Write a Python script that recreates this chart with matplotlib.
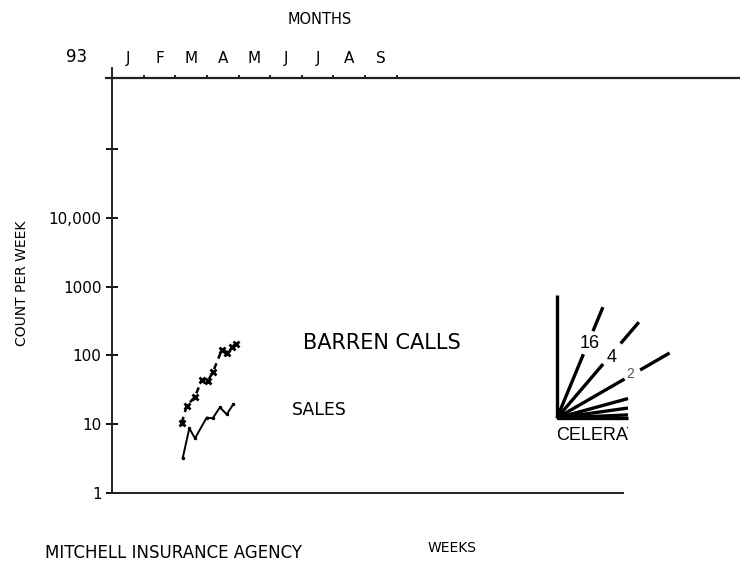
import numpy as np
import matplotlib
matplotlib.use("Agg")
import matplotlib.pyplot as plt
from matplotlib.lines import Line2D
from matplotlib.patches import Rectangle

# data (x in weeks from start of chart, y in counts per week)
calls_week = [9.55, 10.23, 11.37, 12.29, 13.15, 13.84, 15.03, 15.71, 16.40, 16.99]
calls_count = [10.4, 18.3, 25, 43.7, 42.7, 57.7, 119, 108, 133, 146]
sales_week = [9.68, 10.59, 11.37, 12.97, 13.79, 14.79, 15.71, 16.62]
sales_count = [3.17, 8.66, 6.19, 12.4, 12.1, 17.5, 13.8, 19.4]

months = ['J', 'F', 'M', 'A', 'M', 'J', 'J', 'A', 'S']
weeks_per_month = 52 / 12.0
y_ticks = [1, 10, 100, 1000, 10000, 100000]
y_labels = ['1', '10', '100', '1000', '10,000', '']

# celeration fan (decorative): angles in degrees, labels
fan_angles = [67.5, 49.5, 30, 15.3, 8, 2.5, 0]
fan_labels = ['16', '4', '2']

W, H = 740, 576
fig = plt.figure(figsize=(W / 100, H / 100), dpi=100, facecolor='white')

def fx(px):
    return px / W

def fy(py):
    return 1 - py / H

left, right, top, bot = 112, 623, 78.3, 492.7
ax = fig.add_axes([fx(left), fy(bot), fx(right - left), (bot - top) / H])
ax.set_yscale('log')
ax.set_xlim(0, (right - left) / 7.3)
ax.set_ylim(1, 10 ** ((bot - top) / 68.7))

ax.plot(calls_week, calls_count, color='black', lw=1.8, ls=(0, (2.5, 2)),
        marker='x', ms=4, mew=2)
ax.plot(sales_week, sales_count, color='black', lw=1.4, marker='.', ms=3)

for s in ['top', 'right']:
    ax.spines[s].set_visible(False)
for s in ['left', 'bottom']:
    ax.spines[s].set_linewidth(1.4)
    ax.spines[s].set_color('#222222')

# extended top line and left spine overshoot
ax.add_line(Line2D([-6 / (right - left), (W - left) / (right - left)], [1, 1],
                   transform=ax.transAxes, clip_on=False, color='#222222', lw=1.6))
ax.add_line(Line2D([0, 0], [1, 1 + 10.6 / (bot - top)], transform=ax.transAxes,
                   clip_on=False, color='#222222', lw=1.4))

ax.set_yticks(y_ticks)
ax.set_yticklabels(y_labels, fontsize=11)
ax.yaxis.set_minor_locator(matplotlib.ticker.NullLocator())
ax.tick_params(axis='y', direction='inout', length=9, width=1.3, pad=3)

ax.xaxis.tick_top()
ax.set_xticks([k * weeks_per_month for k in range(len(months) + 1)])
ax.set_xticklabels([])
ax.set_xticks([(k + 0.5) * weeks_per_month for k in range(len(months))], minor=True)
ax.set_xticklabels(months, minor=True, fontsize=11)
ax.tick_params(axis='x', which='major', direction='out', length=2.5, width=1.2)
ax.tick_params(axis='x', which='minor', length=0, pad=9)

fig.text(fx(77), fy(57), '93', fontsize=12, ha='center', va='center')
fig.text(fx(320), fy(20), 'MONTHS', fontsize=10.5, ha='center', va='center')
fig.text(fx(22), fy(283), 'COUNT PER WEEK', fontsize=10, rotation=90,
         ha='center', va='center')
fig.text(fx(303), fy(343), 'BARREN CALLS', fontsize=15, ha='left', va='center')
fig.text(fx(292), fy(410), 'SALES', fontsize=12.5, ha='left', va='center')
fig.text(fx(45), fy(553), 'MITCHELL INSURANCE AGENCY', fontsize=12,
         ha='left', va='center')
fig.text(fx(428), fy(548), 'WEEKS', fontsize=10, ha='left', va='center')

# celeration fan in pixel space
fan = fig.add_axes([0, 0, 1, 1])
fan.set_xlim(0, W)
fan.set_ylim(H, 0)
fan.axis('off')
cx, cy = 557, 418
fan.plot([cx, cx], [cy, 295], color='black', lw=2.4, solid_capstyle='butt')
segs = {
    0: [(0, 69), (94, 120)],
    1: [(0, 71), (98, 126)],
    2: [(0, 78), (96, 130)],
}
for i, ang in enumerate(fan_angles):
    a = np.radians(ang)
    pieces = segs.get(i, [(0, 71 / np.cos(a))])
    for r0, r1 in pieces:
        fan.plot([cx + r0 * np.cos(a), cx + r1 * np.cos(a)],
                 [cy - r0 * np.sin(a), cy - r1 * np.sin(a)],
                 color='black', lw=2.4, solid_capstyle='butt')
fan.text(590, 343, fan_labels[0], fontsize=13, ha='center', va='center',
         family='Liberation Sans')
fan.text(612, 357, fan_labels[1], fontsize=13, ha='center', va='center',
         family='Liberation Sans')
fan.text(630, 374, fan_labels[2], fontsize=10, ha='center', va='center',
         family='Liberation Sans', color='#555555')
t = fan.text(556, 436, 'CELERATION', fontsize=13, ha='left', va='center',
             family='Liberation Sans')
t.set_clip_on(True)
t.set_clip_path(Rectangle((556, 420), 72, 30, transform=fan.transData))

fig.savefig('out.png', dpi=100, facecolor='white')
